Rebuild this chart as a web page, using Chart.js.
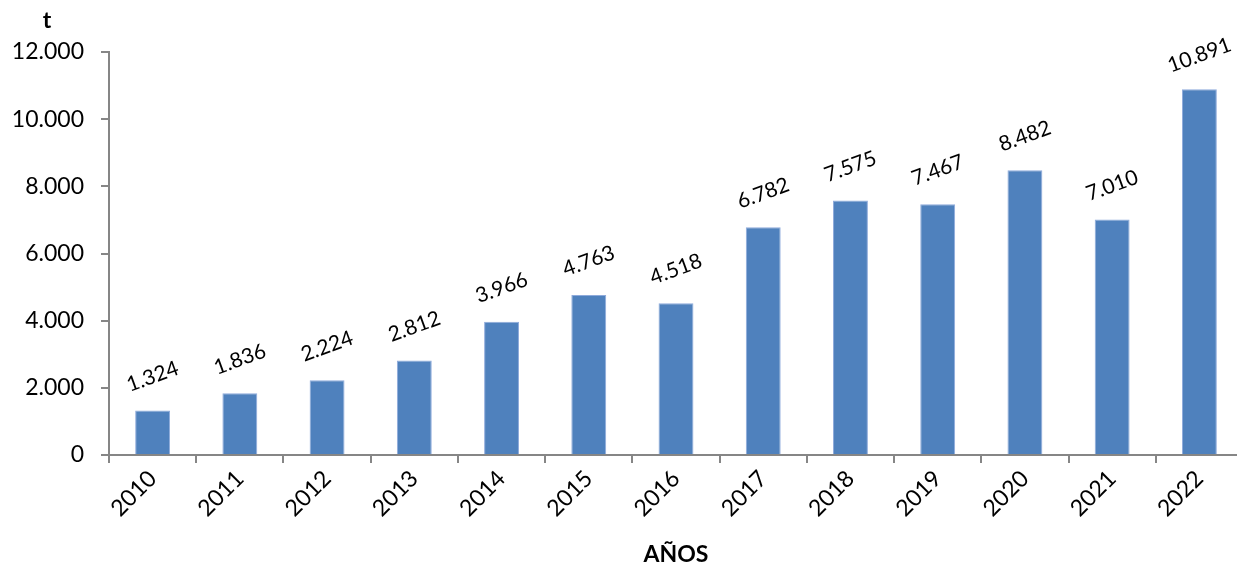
<!DOCTYPE html>
<html>
<head>
<meta charset="utf-8">
<script src="https://cdn.jsdelivr.net/npm/chart.js@4/dist/chart.umd.min.js"></script>
<style>
  html, body { margin: 0; padding: 0; background: #fff; overflow: hidden; }
</style>
</head>
<body>
<canvas id="chart" width="1250" height="569"></canvas>
<script>
const years = ['2010', '2011', '2012', '2013', '2014', '2015', '2016', '2017', '2018', '2019', '2020', '2021', '2022'];
const tonnes = [1324, 1836, 2224, 2812, 3966, 4763, 4518, 6782, 7575, 7467, 8482, 7010, 10891];
const yTicks = [0, 2000, 4000, 6000, 8000, 10000, 12000];

const FONT = 'Lato, "Open Sans", sans-serif';
const AXIS = '#868686';

function fmt(n) {
    return String(n).replace(/\B(?=(\d{3})+(?!\d))/g, '.');
}

// labels above the bars, tilted like the original
const barLabels = {
    id: 'barLabels',
    afterDatasetsDraw(chart) {
        const ctx = chart.ctx;
        const meta = chart.getDatasetMeta(0);
        ctx.save();
        ctx.font = '21px ' + FONT;
        ctx.fillStyle = '#000';
        ctx.textAlign = 'center';
        ctx.textBaseline = 'middle';
        meta.data.forEach((bar, i) => {
            ctx.save();
            ctx.translate(bar.x, bar.y - 34);
            ctx.rotate(-20 * Math.PI / 180);
            ctx.fillText(fmt(tonnes[i]), 0, 0);
            ctx.restore();
        });
        ctx.restore();
    }
};

// unit label at the top of the value axis
const unitLabel = {
    id: 'unitLabel',
    afterDraw(chart) {
        const ctx = chart.ctx;
        ctx.save();
        ctx.font = 'bold 23px ' + FONT;
        ctx.fillStyle = '#000';
        ctx.textAlign = 'center';
        ctx.textBaseline = 'middle';
        ctx.fillText('t', 47, 21);
        ctx.restore();
    }
};

const ctx = document.getElementById('chart').getContext('2d');
new Chart(ctx, {
    type: 'bar',
    data: {
        labels: years,
        datasets: [{
            label: 't',
            data: tonnes,
            backgroundColor: '#4F81BD',
            borderColor: '#8EAADB',
            borderWidth: 1,
            barPercentage: 0.4,
            categoryPercentage: 1
        }]
    },
    options: {
        responsive: false,
        animation: false,
        layout: { padding: { top: 52, left: 0, right: 7, bottom: 0 } },
        plugins: {
            legend: { display: false },
            tooltip: { enabled: false }
        },
        scales: {
            x: {
                afterFit(scale) { scale.height = 114; },
                border: { color: AXIS, width: 2 },
                grid: { drawOnChartArea: false, color: AXIS, lineWidth: 2, tickLength: 8, offset: true },
                ticks: {
                    color: '#000',
                    font: { family: FONT, size: 23 },
                    minRotation: 45,
                    maxRotation: 45,
                    padding: 2
                },
                title: {
                    display: true,
                    text: 'AÑOS',
                    color: '#000',
                    font: { family: FONT, size: 23, weight: 'bold' },
                    padding: { top: 0, bottom: 1 }
                }
            },
            y: {
                min: 0,
                max: 12000,
                afterFit(scale) { scale.width = 109; },
                afterBuildTicks(scale) { scale.ticks = yTicks.map(v => ({ value: v })); },
                border: { color: AXIS, width: 2 },
                grid: { drawOnChartArea: false, color: AXIS, lineWidth: 2, tickLength: 8 },
                ticks: {
                    color: '#000',
                    font: { family: FONT, size: 23 },
                    padding: 17,
                    callback: v => fmt(v)
                }
            }
        }
    },
    plugins: [barLabels, unitLabel]
});
</script>
</body>
</html>
